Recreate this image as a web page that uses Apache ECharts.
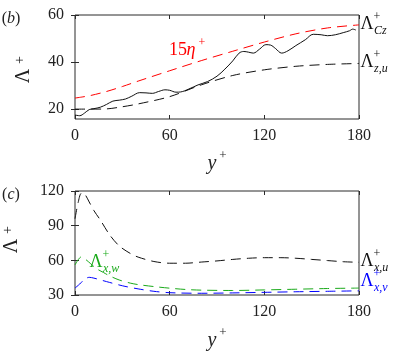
<!DOCTYPE html>
<html><head><meta charset="utf-8">
<script src="https://cdn.jsdelivr.net/npm/echarts@6/dist/echarts.min.js"></script>
<style>html,body{margin:0;padding:0;background:#fff}#c{width:395px;height:353px}</style>
</head><body><div id="c"></div>
<script>
// ---- panel (b) data ----
const xTicks = [0, 60, 120, 180];
const bYTicks = [20, 40, 60];
const cYTicks = [30, 60, 90, 120];

const etaX = [0, 5, 10, 20, 30, 40, 60, 80, 100, 120, 140, 160, 180];
const etaY = [24.7, 25.2, 25.8, 27.5, 29.6, 31.9, 36.3, 40.6, 44.6, 48.5, 52.0, 54.5, 55.8];

const lzuX = [0, 10, 20, 30, 40, 60, 80, 100, 120, 140, 160, 180];
const lzuY = [20.0, 20.0, 20.1, 21.0, 22.2, 25.3, 30.3, 34.3, 36.7, 38.2, 39.0, 39.4];

const lczX = [0, 3, 6, 9, 12, 16, 20, 24, 28, 32, 36, 41, 45, 49, 53, 57, 60, 64, 67, 72, 78, 84, 90, 95, 100, 104, 107, 110, 113, 117, 121, 124, 127, 131, 135, 140, 146, 151, 156, 160, 165, 170, 174, 176, 178];
const lczY = [17.5, 17.2, 18.3, 19.8, 20.2, 20.8, 22.0, 23.4, 23.8, 24.3, 25.5, 27.0, 26.9, 26.7, 27.5, 28.2, 28.0, 27.2, 27.3, 28.5, 30.3, 31.7, 34.0, 37.0, 40.5, 43.8, 44.5, 44.2, 43.8, 45.5, 47.4, 47.2, 45.8, 43.8, 44.8, 47.0, 49.5, 51.8, 51.6, 51.2, 51.6, 52.5, 53.3, 54.0, 53.6];

// ---- panel (c) data ----
const lxuX = [0, 2, 4, 6, 9, 12, 16, 22, 28, 35, 40, 50, 60, 70, 80, 90, 100, 110, 120, 130, 140, 150, 160, 170, 180];
const lxuY = [96, 110, 118, 117.5, 110.5, 103, 95, 82, 72.5, 66, 62.8, 59, 57.5, 57.5, 58.5, 59.5, 60.8, 61.8, 62.3, 62.3, 61.8, 60.8, 59.8, 58.8, 58.3];

const lxwX = [0, 2, 4, 7, 10, 14, 18, 22, 28, 35, 40, 50, 60, 70, 80, 100, 120, 140, 160, 180];
const lxwY = [56, 60.5, 63, 60.5, 57, 52.5, 49.5, 46.5, 43, 40.3, 39, 37.3, 35.9, 34.8, 34.2, 33.9, 34.4, 35.0, 35.6, 36.0];

const lxvX = [0, 3, 6, 9, 12, 20, 30, 40, 50, 60, 80, 100, 120, 140, 160, 180];
const lxvY = [36, 39.5, 43.5, 45.3, 44.6, 41.6, 38, 35.3, 33.2, 32, 31.5, 31.8, 32.3, 32.8, 33.2, 33.6];

const pairs = (xs, ys) => xs.map((x, i) => [x, ys[i]]);

const SERIF = '"Liberation Serif", "DejaVu Serif", serif';
const AX = '#2b2b2b';
const DASH = [10, 6];

const grids = [
  { left: 75, top: 15, width: 284, height: 104 },
  { left: 75, top: 191, width: 284, height: 104 }
];
grids.forEach(g => { g.show = true; g.borderColor = AX; g.borderWidth = 1; g.backgroundColor = 'transparent'; g.containLabel = false; });

function xAx(gi, pos, labels) {
  return {
    type: 'value', gridIndex: gi, position: pos, min: 0, max: 180, interval: 60,
    axisLine: { show: false }, splitLine: { show: false },
    axisTick: { show: true, inside: true, length: 4, lineStyle: { color: AX } },
    axisLabel: { show: labels, margin: 9, fontFamily: SERIF, fontSize: 16, color: '#222' }
  };
}
function yAx(gi, pos, labels, min, max, ticks) {
  return {
    type: 'value', gridIndex: gi, position: pos, min: min, max: max,
    axisLine: { show: false }, splitLine: { show: false },
    axisTick: { show: true, inside: true, length: 4, lineStyle: { color: AX }, customValues: ticks },
    axisLabel: { show: labels, margin: 11, fontFamily: SERIF, fontSize: 16, color: '#222', customValues: ticks }
  };
}

function line(xi, yi, data, color, dashed, smooth) {
  return {
    type: 'line', xAxisIndex: xi, yAxisIndex: yi, data: data, showSymbol: false, symbol: 'none',
    smooth: smooth, clip: true,
    lineStyle: { color: color, width: 1, type: dashed ? DASH : 'solid' }, silent: true
  };
}

// text helpers
function t(x, y, text, size, color, italic, extra) {
  return Object.assign({
    type: 'text', x: x, y: y, z: 100,
    style: { text: text, fill: color, font: (italic ? 'italic ' : '') + size + 'px ' + SERIF, textAlign: 'center', textVerticalAlign: 'middle' }
  }, extra || {});
}
function lam(x, y, sub, color) {
  const s = t(x + 7, y + 7, sub, 12, color, true);
  s.style.textAlign = 'left';
  return [
    t(x, y, 'Λ', 18, color, false),
    t(x + 10, y - 7, '+', 12, color, false),
    s
  ];
}
function panelLabel(x, y, letter) {
  return {
    type: 'text', x: x, y: y, z: 100,
    style: {
      text: '{n|(}{i|' + letter + '}{n|)}', textAlign: 'center', textVerticalAlign: 'middle', fill: '#222',
      rich: {
        n: { fontFamily: SERIF, fontSize: 16, fill: '#222' },
        i: { fontFamily: SERIF, fontSize: 16, fontStyle: 'italic', fill: '#222' }
      }
    }
  };
}

const graphics = [].concat(
  [panelLabel(11, 19, 'b')],
  [panelLabel(11, 195, 'c')],
  [t(24, 76, 'Λ', 20, '#222', false, { rotation: Math.PI / 2 }), t(20, 60, '+', 14, '#222', false, { rotation: Math.PI / 2 })],
  [t(12, 246, 'Λ', 20, '#222', false, { rotation: Math.PI / 2 }), t(8, 230, '+', 14, '#222', false, { rotation: Math.PI / 2 })],
  [t(212, 164, 'y', 20, '#222', true), t(223, 156, '+', 13, '#222', false)],
  [t(212, 341, 'y', 20, '#222', true), t(223, 333, '+', 13, '#222', false)],
  [t(178, 50, '15', 18, '#ff0000', false), t(191, 50, 'η', 18, '#ff0000', true), t(202, 43, '+', 12, '#ff0000', false)],
  lam(367, 24, 'Cz', '#111'),
  lam(367, 62, 'z,u', '#111'),
  lam(367, 261, 'x,u', '#111'),
  lam(367, 281, 'x,v', '#0000ff'),
  lam(96, 262, 'x,w', '#1aaa1a')
);

const option = {
  backgroundColor: '#fff',
  animation: false,
  grid: grids,
  xAxis: [xAx(0, 'bottom', true), xAx(0, 'top', false), xAx(1, 'bottom', true), xAx(1, 'top', false)],
  yAxis: [
    yAx(0, 'left', true, 15.8, 60, bYTicks), yAx(0, 'right', false, 15.8, 60, bYTicks),
    yAx(1, 'left', true, 30, 120, cYTicks), yAx(1, 'right', false, 30, 120, cYTicks)
  ],
  series: [
    line(0, 0, pairs(etaX, etaY), '#ff0000', true, 0.3),
    line(0, 0, pairs(lzuX, lzuY), '#111', true, 0.3),
    line(0, 0, pairs(lczX, lczY), '#111', false, 0.35),
    line(2, 2, pairs(lxuX, lxuY), '#111', true, 0.3),
    line(2, 2, pairs(lxwX, lxwY), '#1aaa1a', true, 0.3),
    line(2, 2, pairs(lxvX, lxvY), '#0000ff', true, 0.3)
  ],
  graphic: graphics
};
const chart = echarts.init(document.getElementById('c'), null, { renderer: 'canvas' });
chart.setOption(option);
</script></body></html>
